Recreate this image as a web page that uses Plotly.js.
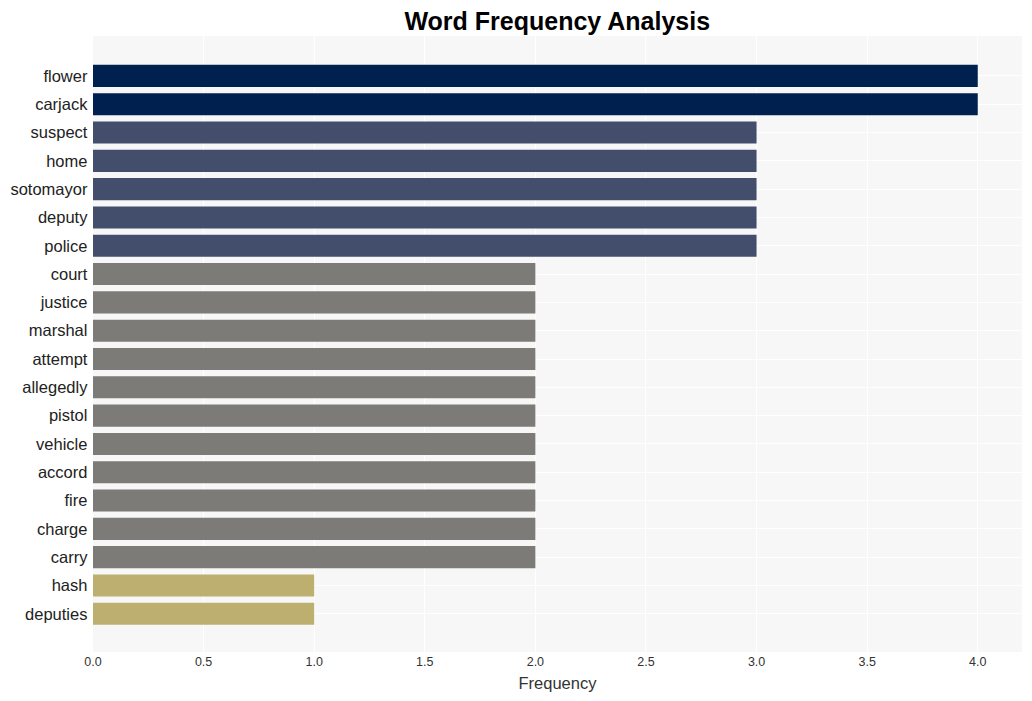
<!DOCTYPE html>
<html>
<head>
<meta charset="utf-8">
<script src="https://cdn.plot.ly/plotly-3.0.1.min.js"></script>
<style>html,body{margin:0;padding:0;background:#fff;}#chart{width:1032px;height:701px;}</style>
</head>
<body>
<div id="chart"></div>
<script>
const words = ["flower","carjack","suspect","home","sotomayor","deputy","police","court","justice","marshal","attempt","allegedly","pistol","vehicle","accord","fire","charge","carry","hash","deputies"];
const frequencies = [4,4,3,3,3,3,3,2,2,2,2,2,2,2,2,2,2,2,1,1];
const colorByValue = {4:"#00204f",3:"#434e6c",2:"#7c7b78",1:"#bcaf6f"};

const trace = {
  type: "bar",
  orientation: "h",
  x: frequencies,
  y: words,
  width: 0.78,
  marker: {color: frequencies.map(v => colorByValue[v])},
  hoverinfo: "x+y"
};

const layout = {
  width: 1032,
  height: 701,
  margin: {l: 93, r: 10, t: 36, b: 49},
  paper_bgcolor: "#ffffff",
  plot_bgcolor: "#f7f7f7",
  font: {family: "Liberation Sans, Arial, sans-serif", color: "#222"},
  title: {text: "<b>Word Frequency Analysis</b>", x: 0.54, xanchor: "center", y: 0.982, yanchor: "top", font: {size: 25, color: "#000"}},
  xaxis: {
    range: [0, 4.2],
    dtick: 0.5,
    tickformat: ".1f",
    gridcolor: "#ffffff",
    gridwidth: 1,
    zeroline: false,
    showline: false,
    ticks: "",
    tickfont: {size: 12.5, color: "#333"},
    title: {text: "Frequency", font: {size: 16.5, color: "#333"}, standoff: 9}
  },
  yaxis: {
    type: "category",
    autorange: false,
    range: [words.length - 1 + 1.35, -1.41],
    gridcolor: "#ffffff",
    showline: false,
    zeroline: false,
    ticks: "",
    ticksuffix: " ",
    tickfont: {size: 16.5, color: "#222"}
  },
  showlegend: false
};

Plotly.newPlot("chart", [trace], layout, {displayModeBar: false, staticPlot: false});
</script>
</body>
</html>
